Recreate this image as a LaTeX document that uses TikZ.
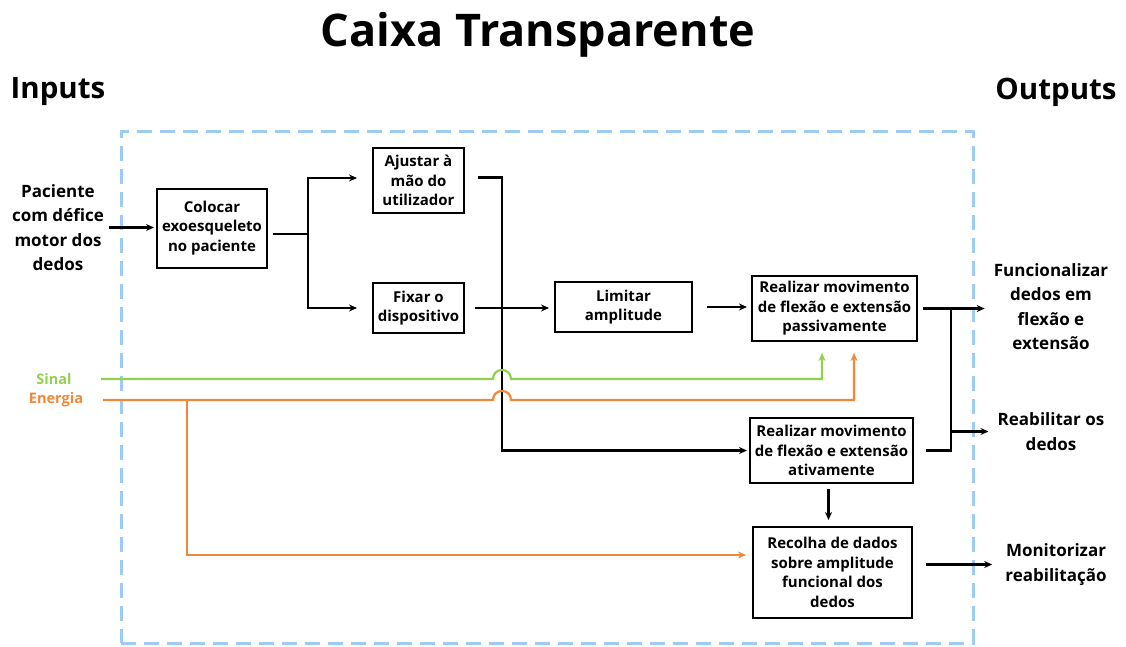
\documentclass[tikz,border=0pt]{standalone}
\usepackage{fontspec}
\setmainfont{Open Sans}
\usetikzlibrary{arrows.meta,calc}
\definecolor{frameblue}{HTML}{9DCBF5}
\definecolor{sigreen}{HTML}{92D050}
\definecolor{enorange}{HTML}{F0883A}
\tikzset{
  stepbox/.style={draw,line width=2pt,align=center,inner sep=1pt,
    font=\fontsize{15}{19.5}\selectfont\bfseries},
  sidetext/.style={align=center,inner sep=0pt,font=\fontsize{17}{24.5}\selectfont\bfseries},
  ln/.style={line width=2.2pt},
  arr/.style={line width=2.2pt,-{Stealth[length=8pt,width=7pt]}},
}
\begin{document}
\begin{tikzpicture}[x=1pt,y=-1pt]
\useasboundingbox (0,0) rectangle (1126,646);

% headings
\node[font=\fontsize{45}{45}\selectfont\bfseries] (title) at (538,35) {Caixa Transparente};
\node[font=\fontsize{29.5}{29.5}\selectfont\bfseries] (inp) at (58,92) {Inputs};
\node[font=\fontsize{29.5}{29.5}\selectfont\bfseries] (outp) at (1056,92) {Outputs};

% system boundary
\node[draw=frameblue,line width=3pt,dash pattern=on 15pt off 8pt,
      minimum width=852pt,minimum height=512pt] (frame) at (547,387) {};

% inputs and outputs
\node[sidetext] (pac) at (58,227.5) {Paciente\\com défice\\motor dos\\dedos};
\node[sidetext] (fun) at (1051,306.5) {Funcionalizar\\dedos em\\flexão e\\extensão};
\node[sidetext] (reab) at (1051,431.5) {Reabilitar os\\dedos};
\node[sidetext] (mon) at (1056,564.5) {Monitorizar\\reabilitação};
\node[sidetext,text=sigreen,font=\fontsize{14.5}{14.5}\selectfont\bfseries] (sin) at (54,379) {Sinal};
\node[sidetext,text=enorange,font=\fontsize{14.5}{14.5}\selectfont\bfseries] (ene) at (56,400) {Energia};

% process steps
\node[stepbox,minimum width=110pt,minimum height=79pt] (col) at (212,228) {Colocar\\exoesqueleto\\no paciente};
\node[stepbox,minimum width=91pt,minimum height=65pt] (aju) at (418.5,180.5) {Ajustar à\\mão do\\utilizador};
\node[stepbox,minimum width=91pt,minimum height=50pt] (fix) at (418.5,308) {Fixar o\\dispositivo};
\node[stepbox,minimum width=137pt,minimum height=50pt] (lim) at (623.5,307) {Limitar\\amplitude};
\node[stepbox,minimum width=165pt,minimum height=65pt] (pas) at (834.5,308.5) {Realizar movimento\\de flexão e extensão\\passivamente};
\node[stepbox,minimum width=163pt,minimum height=65pt] (act) at (831.5,450.5) {Realizar movimento\\de flexão e extensão\\ativamente};
\node[stepbox,minimum width=159pt,minimum height=91pt] (rec) at (832.5,572.5) {Recolha de dados\\sobre amplitude\\funcional dos\\dedos};

% routing points
\coordinate (fk) at (308,234);
\coordinate (bus) at (502,0);
\coordinate (sp) at (951,0);
\coordinate (sigstart) at (101,379);
\coordinate (enstart) at (103,400);
\coordinate (enb) at (187,400);

% main flow
\draw[arr,shorten <=5pt,shorten >=2pt] (pac.east) -- (pac.east -| col.west);
\draw[ln,shorten <=5pt] (col.east |- fk) -- (fk);
\draw[arr,shorten >=15pt] (fk) |- ([yshift=2.5pt]aju.west);
\draw[arr,shorten >=15pt] (fk) |- (fix.west);
\draw[arr,shorten >=2pt] ([xshift=13pt,yshift=3pt]aju.east) -| (bus |- act.west) -- (act.west);
\draw[arr,shorten <=10pt,shorten >=5pt] (fix.east) -- (fix.east -| lim.west);
\draw[arr,shorten <=14pt,shorten >=4pt] (lim.east) -- (lim.east -| pas.west);
\draw[arr,shorten <=5pt,shorten >=9pt] (pas.east) -- (pas.east -| fun.west);
\draw[ln] ([xshift=12pt]act.east) -| (sp |- pas.east);
\draw[arr,shorten >=9pt] (sp |- reab.west) -- (reab.west);
\draw[arr,shorten <=5pt,shorten >=6pt] ([xshift=-3pt]act.south) -- ([xshift=-3pt]act.south |- rec.north);
\draw[arr,shorten <=13pt,shorten >=13pt] (mon.west -| rec.east) -- (mon.west);

% signal and energy supply, hopping over the vertical line
\draw[arr,sigreen,shorten >=11pt] (sigstart) -- ([xshift=-9pt]bus |- sigstart)
  .. controls +(0,-12) and +(0,-12) .. ([xshift=9pt]bus |- sigstart)
  -| ([xshift=-12.5pt]pas.south);
\draw[arr,enorange,shorten >=11pt] (enstart) -- ([xshift=-9pt]bus |- enstart)
  .. controls +(0,-12) and +(0,-12) .. ([xshift=9pt]bus |- enstart)
  -| ([xshift=19.5pt]pas.south);
\draw[arr,enorange,shorten >=6pt] (enb) |- ([yshift=17.5pt]rec.west);
\end{tikzpicture}
\end{document}
